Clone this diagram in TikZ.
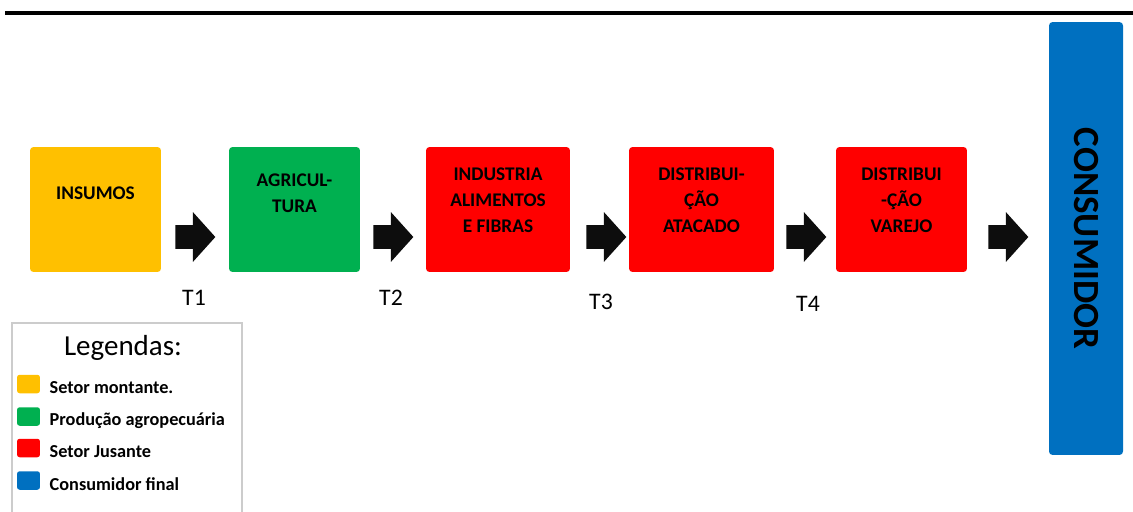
\documentclass[tikz,border=0pt]{standalone}
\usepackage{fontspec}
\setmainfont{Carlito}
\usetikzlibrary{shapes.arrows}
\usetikzlibrary{positioning}
\definecolor{amarelo}{HTML}{FFC000}
\definecolor{verde}{HTML}{00B050}
\definecolor{vermelho}{HTML}{FF0000}
\definecolor{azul}{HTML}{0070C0}
\definecolor{preto}{HTML}{0D0D0D}
\tikzstyle{every node}=[font=\small]
\tikzstyle{bloco}=[rounded corners=2pt, minimum height=2.5cm, inner sep=0pt]
\tikzstyle{rotulo}=[align=center, inner sep=0pt, font=\fontsize{11}{14.7}\selectfont\bfseries]
\tikzstyle{seta}=[single arrow, fill=preto, minimum height=0.8cm, minimum width=0.98cm,
  single arrow head extend=0.26cm, single arrow tip angle=96, inner xsep=0pt, inner ysep=0.23cm]
\tikzstyle{legcor}=[rounded corners=1.5pt, minimum width=0.46cm, minimum height=0.37cm, inner sep=0pt]
\tikzstyle{legtxt}=[inner sep=0pt, font=\fontsize{10.4}{12}\selectfont\bfseries]

\begin{document}
\begin{tikzpicture}[x=0.02cm, y=-0.02cm]
  \useasboundingbox (0,0) rectangle (1133,511);

  % linha do topo
  \draw[line width=2.1pt] (5,13) -- (1133,13);

  % etapas da cadeia
  \node[bloco, fill=amarelo, minimum width=2.62cm] (insumos) at (95.5,209.5) {};
  \node[bloco, fill=verde, minimum width=2.62cm] (agricultura) at (294.5,209.5) {};
  \node[bloco, fill=vermelho, minimum width=2.88cm] (industria) at (498,209.5) {};
  \node[bloco, fill=vermelho, minimum width=2.9cm] (atacado) at (701.5,209.5) {};
  \node[bloco, fill=vermelho, minimum width=2.62cm] (varejo) at (901.5,209.5) {};
  \node[bloco, fill=azul, minimum width=1.48cm, minimum height=8.66cm] (consumidor) at (1086,238.5) {};

  \node[rotulo] at (95.5,193) {INSUMOS};
  \node[rotulo] at (294.5,193) {AGRICUL-\\TURA};
  \node[rotulo] at (498,200) {INDUSTRIA\\ALIMENTOS\\E FIBRAS};
  \node[rotulo] at (701.5,200) {DISTRIBUI-\\ÇÃO\\ATACADO};
  \node[rotulo] at (901.5,200) {DISTRIBUI\\-ÇÃO\\VAREJO};
  \node[rotate=-90, inner sep=0pt, font=\fontsize{21}{23}\selectfont\bfseries] at (consumidor.center) {CONSUMIDOR};

  % setas e transacoes
  \foreach \x [count=\i] in {175,373,586,786,988}
    \node[seta, anchor=tail] (seta\i) at (\x,237) {};
  \foreach \x/\y/\t in {194/298/T1, 391/298/T2, 601/302/T3, 808/304/T4}
    \node[font=\fontsize{13.5}{15}\selectfont] (\t) at (\x,\y) {\t};

  % legenda
  \draw[gray!40, line width=0.7pt] (12,515) -- (12,323) -- (242,323) -- (242,515);
  \node[font=\fontsize{16.5}{19}\selectfont] (legendas) at (123,348) {Legendas:};
  \foreach \c/\y/\t [count=\i] in {amarelo/384/Setor montante.,
      verde/416.5/Produção agropecuária, vermelho/448/Setor Jusante,
      azul/480.5/Consumidor final}
  {
    \node[legcor, fill=\c] (cor\i) at (28.5,\y) {};
    \node[legtxt, right=0.18cm of cor\i, yshift=-0.08cm] (leg\i) {\t};
  }
\end{tikzpicture}
\end{document}
